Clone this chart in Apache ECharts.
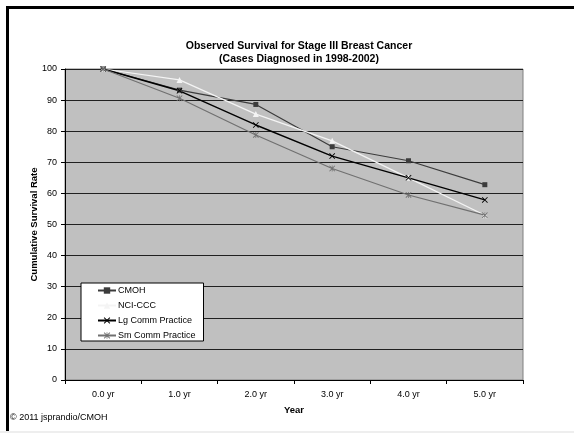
<!DOCTYPE html>
<html>
<head>
<meta charset="utf-8">
<script src="https://cdn.jsdelivr.net/npm/echarts@6/dist/echarts.min.js"></script>
<style>
  html, body { margin: 0; padding: 0; background: #fff; }
  #chart { width: 574px; height: 433px; }
</style>
</head>
<body>
<div id="chart"></div>
<script>
// Years since diagnosis
const years = ['0.0 yr', '1.0 yr', '2.0 yr', '3.0 yr', '4.0 yr', '5.0 yr'];

// Observed survival (%) per cohort
const cmoh = [100, 93.2, 88.6, 75.0, 70.5, 62.8];
const nciCcc = [100, 96.5, 85.5, 76.9, 65.0, 53.0];
const lgComm = [100, 93.0, 82.0, 72.0, 65.0, 57.9];
const smComm = [100, 90.6, 78.8, 68.0, 59.5, 53.0];

const seriesNames = ['CMOH', 'NCI-CCC', 'Lg Comm Practice', 'Sm Comm Practice'];

const xMark = 'path://M0,1L1,0L5,4L9,0L10,1L6,5L10,9L9,10L5,6L1,10L0,9L4,5Z';
const starMark = 'path://M0,1L1,0L4.4,3.4L4.4,0L5.6,0L5.6,3.4L9,0L10,1L6,5L10,9L9,10L5.6,6.6L5.6,10L4.4,10L4.4,6.6L1,10L0,9L4,5Z';

const font = 'Arial, "Liberation Sans", sans-serif';

function line(name, data, color, symbol, size, width) {
  return {
    name: name,
    type: 'line',
    data: data,
    symbol: symbol,
    symbolSize: size,
    showSymbol: true,
    lineStyle: { color: color, width: width },
    itemStyle: { color: color },
    emphasis: { disabled: true },
    z: 3
  };
}

const chart = echarts.init(document.getElementById('chart'));
chart.setOption({
  animation: false,
  backgroundColor: '#ffffff',
  title: {
    text: 'Observed Survival for Stage III Breast Cancer\n(Cases Diagnosed in 1998-2002)',
    left: 294,
    top: 35,
    textAlign: 'center',
    textStyle: { fontFamily: font, fontSize: 10.5, fontWeight: 'bold', color: '#000', lineHeight: 13 }
  },
  legend: {
    orient: 'vertical',
    left: 81,
    top: 283,
    width: 122,
    padding: [3, 8, 1, 16],
    itemGap: 6,
    itemWidth: 18,
    itemHeight: 8,
    backgroundColor: '#ffffff',
    borderColor: '#000000',
    borderWidth: 1,
    data: seriesNames,
    textStyle: { fontFamily: font, fontSize: 9, color: '#000', padding: [0, 0, 0, -3] }
  },
  grid: {
    left: 65,
    top: 69,
    width: 458,
    height: 311,
    show: true,
    backgroundColor: '#c0c0c0',
    borderColor: '#808080',
    borderWidth: 1
  },
  xAxis: {
    type: 'category',
    data: years,
    boundaryGap: true,
    name: 'Year',
    nameLocation: 'middle',
    nameGap: 25,
    nameMoveOverlap: false,
    nameTextStyle: { fontFamily: font, fontSize: 9.5, fontWeight: 'bold', color: '#000' },
    axisLine: { lineStyle: { color: '#000', width: 1 } },
    axisTick: { show: true, inside: false, length: 4, alignWithLabel: false, lineStyle: { color: '#000' } },
    axisLabel: { fontFamily: font, fontSize: 9, color: '#000', margin: 10 },
    splitLine: { show: false }
  },
  yAxis: {
    type: 'value',
    min: 0,
    max: 100,
    interval: 10,
    name: 'Cumulative Survival Rate',
    nameLocation: 'middle',
    nameGap: 26,
    nameMoveOverlap: false,
    nameTextStyle: { fontFamily: font, fontSize: 9.5, fontWeight: 'bold', color: '#000' },
    axisLine: { show: true, lineStyle: { color: '#000', width: 1 } },
    axisTick: { show: true, inside: false, length: 4, lineStyle: { color: '#000' } },
    axisLabel: { fontFamily: font, fontSize: 9, color: '#000', margin: 8 },
    splitLine: { show: true, lineStyle: { color: '#202020', width: 1 } }
  },
  series: [
    line(seriesNames[0], cmoh, '#3c3c3c', 'rect', 5, 1.2),
    line(seriesNames[1], nciCcc, '#f4f4f4', 'triangle', 6, 1.2),
    line(seriesNames[2], lgComm, '#000000', xMark, 6, 1.4),
    line(seriesNames[3], smComm, '#707070', starMark, 6, 1.2)
  ],
  graphic: [
    // page frame
    { type: 'rect', shape: { x: 6, y: 6, width: 580, height: 3 }, style: { fill: '#000' }, silent: true },
    { type: 'rect', shape: { x: 6, y: 6, width: 3, height: 425 }, style: { fill: '#000' }, silent: true },
    { type: 'rect', shape: { x: 0, y: 431, width: 574, height: 2 }, style: { fill: '#eeeeee' }, silent: true },
    {
      type: 'text',
      left: 10,
      top: 413,
      style: { text: '© 2011 jsprandio/CMOH', fontFamily: font, fontSize: 9, fill: '#000' },
      silent: true
    }
  ]
});
</script>
</body>
</html>
